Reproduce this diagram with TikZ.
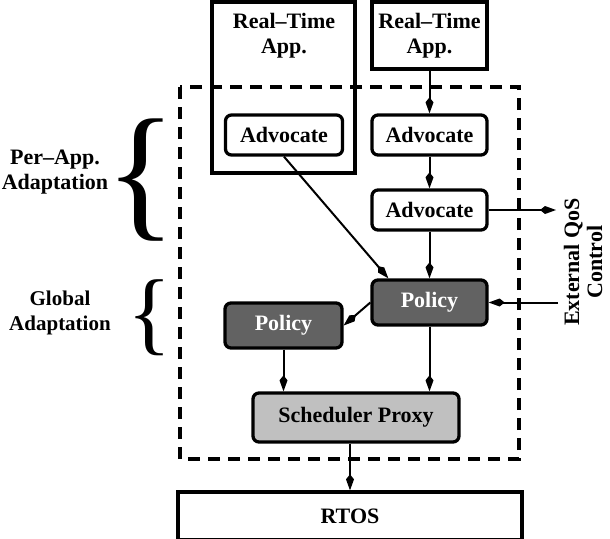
\documentclass[tikz,border=0pt]{standalone}
\usepackage{fontspec}
\setmainfont{Liberation Serif}
\usetikzlibrary{arrows.meta,calc}
\definecolor{policyfill}{RGB}{98,98,98}
\definecolor{schedfill}{RGB}{192,192,192}
\begin{document}
\begin{tikzpicture}[x=1pt,y=-1pt,
  font=\fontsize{22}{25}\selectfont\bfseries,
  box/.style={draw,line width=3.3pt,inner sep=0pt},
  rbox/.style={box,rounded corners=6pt,fill=white},
  pol/.style={rbox,fill=policyfill,text=white,minimum height=45pt},
  arr/.style={line width=2pt,-{Kite[length=16pt,width=8pt,inset=5pt]}},
  region/.style={line width=4.5pt,dash pattern=on 12pt off 8pt},
  bracetext/.style={align=center,inner sep=0pt},
]
\useasboundingbox (0,0) rectangle (610,538);

% dashed region
\draw[region] (180,87) rectangle (519,459);

% application boxes
\node[box,minimum width=143pt,minimum height=171pt] (rtL) at (283.5,87.5) {};
\node[align=center,inner sep=0pt] (rtLt) at (284,35.5) {Real--Time\\App.};
\node[box,fill=white,align=center,minimum width=115pt,minimum height=67pt] (rtR) at (429.5,35.5) {Real--Time\\App.};

% advocates
\node[rbox,minimum width=117pt,minimum height=40pt] (advL) at (284,135) {Advocate};
\node[rbox,minimum width=115pt,minimum height=40pt] (adv1) at (429.5,135) {Advocate};
\node[rbox,minimum width=115pt,minimum height=40pt] (adv2) at (429.5,210) {Advocate};

% policies
\node[pol,minimum width=115pt] (polR) at (429.5,302.5) {Policy};
\node[pol,minimum width=117pt] (polL) at (283.5,325.5) {Policy};

% scheduler and RTOS
\node[rbox,fill=schedfill,minimum width=206pt,minimum height=49pt] (sched) at (356,417.5) {Scheduler Proxy};
\node[box,fill=white,minimum width=344pt,minimum height=48pt] (rtos) at (350,516) {RTOS};

% side labels
\node[bracetext] (perapp) at (55,172) {Per--App.\\Adaptation};
\node[inner sep=0pt,font=\fontsize{148}{148}\selectfont] (brace1) at (141.5,180) {\{};
\node[bracetext,font=\fontsize{21}{25}\selectfont\bfseries] (global) at (60,313) {Global\\Adaptation};
\node[inner sep=0pt,font=\fontsize{92}{92}\selectfont] (brace2) at (150,317.5) {\{};
\node[align=center,rotate=90,inner sep=0pt,font=\fontsize{22}{23}\selectfont\bfseries] (extt) at (583,262) {External QoS\\Control};

% connector end points
\coordinate (qos) at (556,210);
\coordinate (ext) at (558,302.5);

% connectors
\draw[arr] (rtR.south) -- (adv1.north);
\draw[arr] (adv1.south) -- (adv2.north);
\draw[arr] (adv2.south) -- (polR.north);
\draw[arr] (adv2.east) -- (qos);
\draw[arr] (advL.south) -- ([xshift=18pt]polR.north west);
\draw[arr] (ext) -- (polR.east);
\draw[arr] (polR.west) -- (polL.east);
\draw[arr] (polL.south) -- (polL.south |- sched.north);
\draw[arr] (polR.south) -- (polR.south |- sched.north);
\draw[arr] (sched.south -| rtos.north) -- (rtos.north);
\end{tikzpicture}
\end{document}
